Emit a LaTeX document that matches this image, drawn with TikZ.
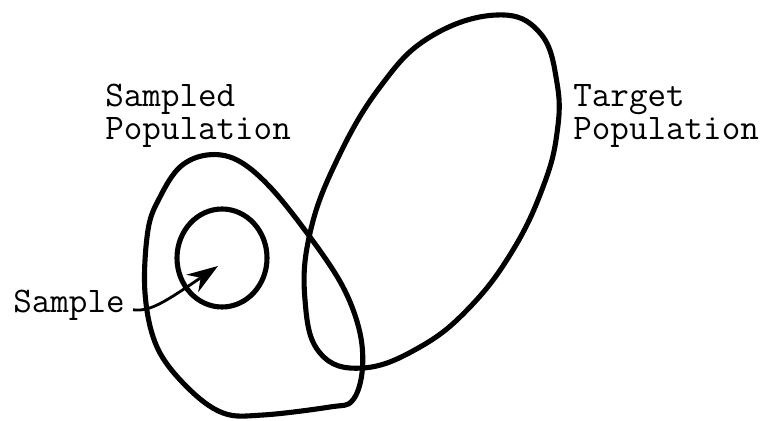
\documentclass[tikz,border=0pt]{standalone}
\usepackage{tikz}
\usetikzlibrary{arrows.meta,positioning}

\begin{document}
\begin{tikzpicture}[
  x=0.02cm, y=-0.02cm,
  font=\ttfamily\fontsize{20.5}{18.8}\selectfont,
  curve/.style={line width=2.9pt,line join=round},
  lbl/.style={inner sep=0pt,align=left},
  arr/.style={-{Stealth[length=0.62cm,width=0.42cm]},line width=1.6pt}
]
\useasboundingbox (0,0) rectangle (763,421);

% ---- target population (tilted loop) ----
\draw[curve] plot[smooth cycle,tension=0.7] coordinates {
  (497,15) (540,33) (557,83) (557,133) (543,187) (513,250) (470,307)
  (420,347) (363,368) (320,353) (305,300) (310,233) (337,160) (380,87) (430,37)};

% ---- sampled population (blob) ----
\draw[curve] plot[smooth cycle,tension=0.6] coordinates {
  (207,155) (237,160) (270,187) (310,237) (343,287) (360,333) (362,373)
  (352,401) (330,407) (263,415) (223,413) (187,387) (157,347) (145,293)
  (148,230) (160,197) (180,167)};

% ---- sample ----
\draw[curve] (222,258) ellipse [x radius=45,y radius=49];

% ---- labels ----
\node[lbl,anchor=base west] (sampled) at (105,140) {Sampled\\Population};
\node[lbl,anchor=base west] (target)  at (573,140) {Target\\Population};
\node[lbl,anchor=base west] (sample)  at (13,313)  {Sample};

\coordinate (tip) at (218,266);
\draw[arr] ([xshift=0.16cm,yshift=-0.08cm]sample.east) .. controls (150,312) and (165,302) .. (tip);
\end{tikzpicture}
\end{document}
